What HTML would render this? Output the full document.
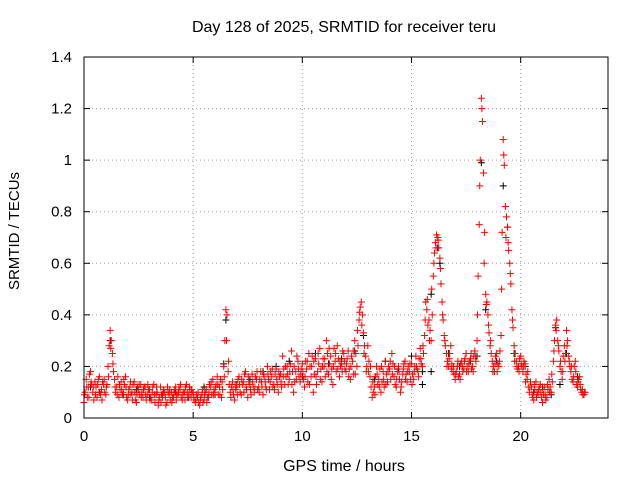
<!DOCTYPE html>
<html><head><meta charset="utf-8">
<style>
body{margin:0;background:#fff;}
svg{display:block;font-family:"Liberation Sans",sans-serif;}
</style></head>
<body>
<svg id="chart" width="640" height="480">
<rect width="640" height="480" fill="#fff"/>
<text x="344" y="32" font-size="16" text-anchor="middle">Day 128 of 2025, SRMTID for receiver teru</text>
<text x="344" y="471" font-size="16" text-anchor="middle">GPS time / hours</text>
<text x="19" y="231" font-size="15" text-anchor="middle" transform="rotate(-90 19 231)">SRMTID / TECUs</text>
<g id="grid"></g><g id="axes"></g><g id="marks"></g>
<rect x="84" y="57" width="524" height="361" fill="none" stroke="#000" stroke-width="1"/>
</svg>
<script>
const xTicks=[0,5,10,15,20];
const yTicks=[0,0.2,0.4,0.6,0.8,1,1.2,1.4];
const yTickLabels=["0","0.2","0.4","0.6","0.8","1","1.2","1.4"];
const startHour=0;
const stepHours=0.1;
const redA=[0.06,0.15,0.12,0.18,0.10,0.14,0.08,0.16,0.11,0.13,
0.09,0.20,0.34,0.25,0.15,0.12,0.08,0.14,0.10,0.16,
0.07,0.12,0.10,0.14,0.06,0.11,0.13,0.08,0.12,0.09,
0.11,0.07,0.13,0.09,0.05,0.12,0.08,0.10,0.06,0.09,
0.10,0.08,0.12,0.09,0.11,0.07,0.10,0.13,0.09,0.08,
0.10,0.06,0.08,0.05,0.09,0.07,0.11,0.08,0.12,0.15,
0.10,0.16,0.12,0.08,0.20,0.42,0.18,0.10,0.14,0.07,
0.12,0.16,0.09,0.14,0.18,0.08,0.13,0.17,0.10,0.15,
0.12,0.18,0.09,0.14,0.20,0.11,0.16,0.13,0.19,0.10,
0.17,0.24,0.13,0.20,0.15,0.26,0.10,0.18,0.22,0.14,
0.21,0.12,0.19,0.25,0.16,0.10,0.23,0.18,0.27,0.14,
0.20,0.30,0.17,0.24,0.13,0.22,0.28,0.16,0.21,0.25,
0.18,0.26,0.15,0.22,0.30,0.20,0.38,0.45,0.33,0.24,
0.28,0.16,0.08,0.12,0.20,0.15,0.10,0.18,0.22,0.14,
0.19,0.25,0.16,0.12,0.20,0.10,0.17,0.22,0.14,0.18,
0.21,0.15,0.24,0.18,0.27,0.20,0.32,0.42,0.38,0.30,
0.55,0.68,0.70,0.62,0.45,0.32,0.25,0.20,0.28,0.18,
0.15,0.20,0.17,0.22,0.19,0.25,0.18,0.23,0.20,0.26,
0.30,0.75,1.24,0.95,0.48,0.40,0.28,0.22,0.18,0.25,
0.20,0.32,1.08,0.82,0.74,0.60,0.42,0.28,0.22,0.20,
0.24,0.18,0.21,0.15,0.10,0.12,0.07,0.14,0.09,0.13,
0.06,0.12,0.08,0.15,0.10,0.22,0.36,0.30,0.20,0.15,
0.28,0.34,0.24,0.18,0.14,0.22,0.12,0.16,0.10,0.09];
const redB=[0.10,0.08,0.17,0.13,0.07,0.12,0.15,0.09,0.14,0.10,
0.13,0.28,0.30,0.18,0.10,0.16,0.11,0.09,0.13,0.08,
0.11,0.09,0.13,0.07,0.12,0.09,0.10,0.12,0.07,0.11,
0.08,0.12,0.06,0.10,0.08,0.09,0.11,0.05,0.10,0.07,
0.08,0.11,0.09,0.12,0.08,0.10,0.12,0.08,0.11,0.10,
0.07,0.09,0.06,0.08,0.06,0.10,0.08,0.13,0.09,0.11,
0.13,0.09,0.15,0.11,0.30,0.40,0.13,0.12,0.09,0.11,
0.15,0.10,0.13,0.17,0.11,0.14,0.09,0.12,0.16,0.11,
0.15,0.12,0.16,0.11,0.15,0.18,0.12,0.17,0.13,0.16,
0.12,0.19,0.16,0.13,0.21,0.18,0.14,0.24,0.16,0.19,
0.15,0.22,0.14,0.20,0.24,0.17,0.13,0.21,0.19,0.23,
0.16,0.25,0.21,0.19,0.27,0.18,0.23,0.20,0.26,0.19,
0.23,0.19,0.24,0.17,0.25,0.28,0.43,0.40,0.28,0.20,
0.22,0.12,0.10,0.16,0.13,0.19,0.14,0.12,0.17,0.20,
0.15,0.21,0.13,0.18,0.15,0.14,0.21,0.17,0.20,0.15,
0.17,0.20,0.19,0.23,0.21,0.25,0.45,0.36,0.34,0.40,
0.64,0.71,0.66,0.52,0.38,0.28,0.22,0.25,0.21,0.17,
0.18,0.16,0.21,0.18,0.23,0.20,0.22,0.19,0.24,0.22,
0.55,1.00,1.15,0.72,0.45,0.33,0.25,0.20,0.24,0.21,
0.26,0.72,0.98,0.78,0.65,0.52,0.35,0.25,0.19,0.23,
0.20,0.22,0.17,0.12,0.14,0.08,0.11,0.10,0.12,0.08,
0.09,0.07,0.11,0.12,0.14,0.30,0.38,0.26,0.18,0.24,
0.25,0.30,0.20,0.15,0.20,0.13,0.15,0.11,0.09,0.10];
const redC=[0.09,0.12,0.08,0.14,0.12,0.09,0.13,0.10,0.07,0.15,
0.12,0.16,0.27,0.21,0.12,0.09,0.13,0.11,0.15,0.12,
0.09,0.14,0.07,0.10,0.09,0.13,0.08,0.11,0.09,0.13,
0.07,0.10,0.09,0.12,0.07,0.06,0.10,0.08,0.12,0.11,
0.06,0.10,0.07,0.10,0.13,0.09,0.07,0.10,0.12,0.11,
0.08,0.07,0.10,0.07,0.11,0.09,0.06,0.10,0.14,0.09,
0.12,0.13,0.09,0.14,0.16,0.30,0.22,0.08,0.11,0.13,
0.09,0.13,0.15,0.10,0.12,0.16,0.11,0.14,0.12,0.18,
0.10,0.14,0.17,0.12,0.17,0.14,0.19,0.11,0.15,0.18,
0.14,0.16,0.20,0.17,0.18,0.13,0.20,0.15,0.19,0.17,
0.18,0.16,0.22,0.13,0.20,0.22,0.16,0.25,0.15,0.20,
0.23,0.18,0.27,0.15,0.20,0.25,0.19,0.22,0.18,0.22,
0.21,0.16,0.20,0.26,0.17,0.34,0.41,0.36,0.25,0.18,
0.18,0.20,0.14,0.09,0.17,0.12,0.20,0.15,0.13,0.18,
0.22,0.17,0.20,0.15,0.18,0.12,0.19,0.15,0.18,0.21,
0.13,0.18,0.20,0.16,0.23,0.28,0.38,0.46,0.30,0.50,
0.60,0.66,0.69,0.58,0.40,0.30,0.20,0.23,0.19,0.20,
0.17,0.22,0.15,0.20,0.22,0.18,0.21,0.25,0.18,0.24,
0.40,0.90,1.20,0.60,0.44,0.36,0.30,0.18,0.21,0.18,
0.22,0.50,1.02,0.70,0.68,0.56,0.38,0.22,0.20,0.18,
0.21,0.20,0.14,0.18,0.12,0.09,0.13,0.08,0.11,0.10,
0.11,0.09,0.13,0.10,0.17,0.26,0.34,0.28,0.22,0.18,
0.22,0.28,0.22,0.20,0.16,0.18,0.14,0.13,0.11,0.10];
const blackVals=[0.12,0.10,0.30,0.09,0.11,0.08,0.09,0.10,0.08,0.12,0.09,0.21,0.38,0.13,0.15,0.18,0.20,0.22,0.16,0.25,0.21,0.23,0.26,0.32,0.15,0.22,0.19,0.24,0.13,0.18,0.18,0.48,0.66,0.60,0.25,0.20,0.22,0.24,0.99,0.42,0.22,0.90,0.74,0.25,0.20,0.10,0.12,0.09,0.13,0.35,0.25,0.16];
const blackTimes=[0.3,0.7,1.2,1.8,2.4,3.0,3.6,4.2,4.8,5.5,6.0,6.4,6.5,7.0,7.6,8.2,8.8,9.4,10.0,10.6,11.2,11.8,12.4,12.8,13.3,13.8,14.4,15.0,15.5,15.9,15.5,15.9,16.2,16.3,16.7,17.2,17.7,18.0,18.2,18.4,18.9,19.2,19.4,19.7,20.2,20.6,21.0,21.4,21.8,21.6,22.1,22.6];

const NS="http://www.w3.org/2000/svg";
const X0=84,X1=608,Y0=418,Y1=57;
function xs(v){return X0+(v-0)/(24-0)*(X1-X0);}
function ys(v){return Y0-(v-0)/(1.4-0)*(Y0-Y1);}
const grid=document.getElementById('grid'),axes=document.getElementById('axes'),marks=document.getElementById('marks');
function mk(tag,attrs,parent){const e=document.createElementNS(NS,tag);for(const k in attrs)e.setAttribute(k,attrs[k]);parent.appendChild(e);return e;}
xTicks.forEach(t=>{
  const x=xs(t);
  if(t>0){const g=mk('line',{x1:x,x2:x,y1:Y0,y2:Y1,stroke:'#a0a0a0','stroke-dasharray':'1,3'},grid);
  
  }
  mk('line',{x1:x,x2:x,y1:Y0,y2:Y0-6,stroke:'#000'},axes);
  mk('line',{x1:x,x2:x,y1:Y1,y2:Y1+6,stroke:'#000'},axes);
  const l=mk('text',{x:x,y:Y0+23,'font-size':15,'text-anchor':'middle'},axes);l.textContent=t;
  
  
});
yTicks.forEach((t,i)=>{
  const y=ys(t);
  if(t>0&&t<1.4){const g=mk('line',{x1:X0,x2:X1,y1:y,y2:y,stroke:'#a0a0a0','stroke-dasharray':'1,3'},grid);
  
  }
  mk('line',{x1:X0,x2:X0+6,y1:y,y2:y,stroke:'#000'},axes);
  mk('line',{x1:X1,x2:X1-6,y1:y,y2:y,stroke:'#000'},axes);
  const l=mk('text',{x:X0-12,y:y+5,'font-size':15,'text-anchor':'end'},axes);l.textContent=yTickLabels[i];
  
  
});
function plus(x,y,c,name){
  const p=mk('path',{d:`M${x-3.5},${y}h7M${x},${y-3.5}v7`,stroke:c,'stroke-width':1},marks);
  
  
}
blackVals.forEach((v,i)=>plus(xs(blackTimes[i]),ys(v),'#000','black-point'));
redA.forEach((v,i)=>plus(xs(startHour+i*stepHours),ys(v),'#ff0000','red-point'));
redB.forEach((v,i)=>plus(xs(startHour+i*stepHours+stepHours/2),ys(v),'#ff0000','red-point'));
redC.forEach((v,i)=>plus(xs(startHour+i*stepHours+stepHours/4),ys(v),'#ff0000','red-point'));
</script>
</body></html>
